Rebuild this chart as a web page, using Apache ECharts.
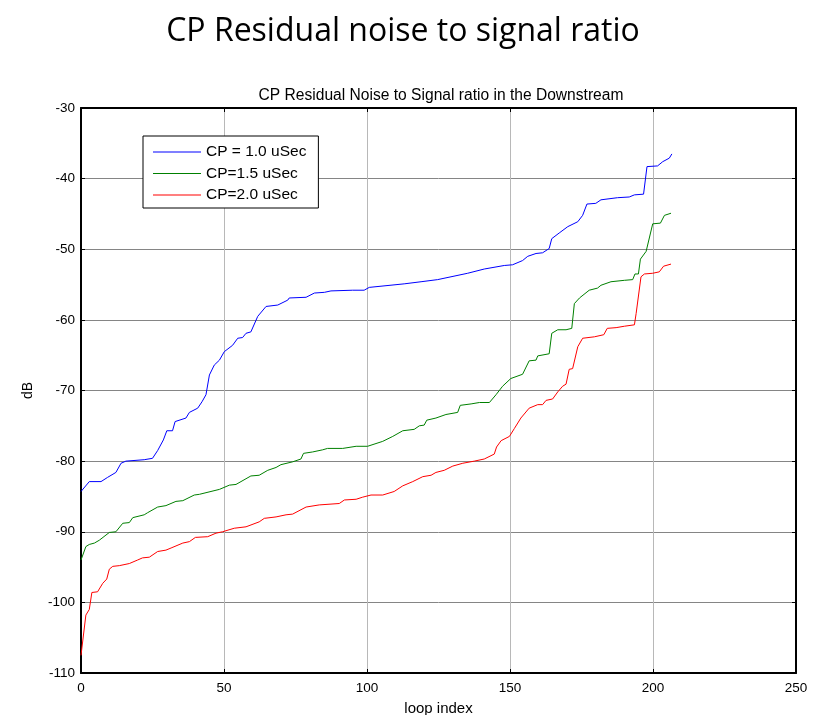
<!DOCTYPE html>
<html><head><meta charset="utf-8">
<script src="https://cdn.jsdelivr.net/npm/echarts@6/dist/echarts.min.js"></script>
<style>html,body{margin:0;padding:0;background:#fff}#c{width:821px;height:715px}</style>
</head><body><div id="c"></div>
<script>
const seriesNames = ['CP = 1.0 uSec', 'CP=1.5 uSec', 'CP=2.0 uSec'];
const xTicks = [0, 50, 100, 150, 200, 250];
const yTicks = [-110, -100, -90, -80, -70, -60, -50, -40, -30];

const blueX = [0, 2.9, 7, 9.3, 12.2, 14, 15.7, 22.1, 25, 26.8, 28.8, 30, 32, 32.9, 36.7, 37.9, 40.8, 42.3, 43.7, 44.9, 46.6, 48.4, 50.1, 53, 54.8, 56.5, 57.7, 59.4, 61.8, 64.7, 68.8, 72.3, 72.8, 78.7, 81.6, 85.1, 87.4, 95, 99, 100.8, 113, 118.9, 124.7, 135.2, 141, 148, 150.9, 154.4, 156.2, 159.1, 161.4, 163.7, 164.6, 167.2, 170.2, 173.7, 175.4, 176.9, 180, 181.8, 187.6, 191.7, 193.5, 196.7, 197.9, 201.6, 203.4, 205.7, 206.6];
const blueY = [-84.3, -82.9, -82.9, -82.3, -81.6, -80.3, -80, -79.8, -79.6, -78.5, -77, -75.7, -75.7, -74.4, -73.9, -73.1, -72.5, -71.6, -70.6, -67.8, -66.4, -65.7, -64.5, -63.6, -62.6, -62.5, -61.9, -61.7, -59.5, -58.1, -57.9, -57.2, -56.9, -56.8, -56.2, -56.1, -55.9, -55.8, -55.8, -55.4, -54.9, -54.6, -54.3, -53.4, -52.8, -52.3, -52.2, -51.6, -51, -50.6, -50.5, -49.9, -48.5, -47.7, -46.8, -46.1, -45.2, -43.6, -43.5, -43, -42.7, -42.6, -42.3, -42.2, -38.3, -38.2, -37.6, -37.1, -36.5];

const greenX = [0, 1.7, 2.9, 4.7, 6.4, 9.9, 12.2, 14.6, 16.9, 18.1, 22.1, 23.3, 26.8, 29.7, 33.2, 35.6, 39.6, 41.4, 48.4, 51.9, 54.2, 59.4, 62.3, 65.3, 68.2, 69.9, 74, 76.9, 77.8, 81, 84.5, 86.2, 91.5, 96.2, 100.2, 105.5, 109, 112.5, 116.5, 118.3, 120, 120.9, 124.1, 127.6, 131.7, 132.6, 136.4, 139.3, 142.8, 145.1, 147.4, 150.3, 154.4, 156.7, 159.1, 159.7, 163.7, 164.6, 166.7, 169.6, 171.6, 172.5, 174.3, 177.7, 180.6, 181.8, 185.3, 190, 192.9, 193.7, 194.9, 195.6, 197.6, 199.9, 202.6, 204, 206.3];
const greenY = [-94, -92.1, -91.8, -91.6, -91.2, -90.1, -90, -88.8, -88.7, -88, -87.6, -87.3, -86.5, -86.3, -85.7, -85.6, -84.8, -84.7, -84, -83.4, -83.3, -82.1, -82, -81.3, -80.9, -80.5, -80.1, -79.7, -78.9, -78.7, -78.4, -78.2, -78.2, -77.9, -77.9, -77.2, -76.5, -75.7, -75.5, -75, -74.9, -74.2, -73.9, -73.4, -73.1, -72.1, -71.9, -71.7, -71.7, -70.6, -69.4, -68.3, -67.7, -65.8, -65.7, -65.1, -64.8, -61.9, -61.4, -61.4, -61.2, -57.7, -56.9, -55.8, -55.5, -55.1, -54.6, -54.4, -54.3, -53.5, -53.5, -51.4, -50.3, -46.4, -46.3, -45.2, -44.9];

const redX = [0, 1.7, 2.9, 3.8, 5.8, 7.6, 9, 9.9, 11.1, 13.4, 16.9, 19.8, 21.5, 23.9, 26.8, 29.7, 31.5, 35.6, 37.9, 40, 44.3, 47.2, 49.5, 53.6, 57.7, 62.3, 64.1, 68.2, 71.7, 74, 78.7, 83.3, 90.3, 92.1, 96.2, 98.5, 101.4, 105.5, 109.5, 112.5, 116, 119.5, 122.4, 124.1, 127, 130, 133.5, 137.5, 141, 144.5, 145.3, 146.9, 149.8, 151.5, 153.8, 156.7, 159.7, 161.4, 162.6, 164.9, 166.7, 168.4, 169.6, 170.7, 171.9, 173.7, 175.4, 179.5, 182.8, 184, 187.1, 190, 193.5, 194.1, 195.8, 197, 199.9, 202.2, 203.7, 206.3];
const redY = [-107.5, -101.8, -101, -98.6, -98.5, -97.3, -96.7, -95.3, -94.9, -94.8, -94.5, -94, -93.7, -93.6, -92.8, -92.6, -92.3, -91.6, -91.4, -90.8, -90.7, -90.2, -90, -89.5, -89.3, -88.6, -88.1, -87.9, -87.6, -87.5, -86.5, -86.2, -86, -85.5, -85.4, -85.1, -84.8, -84.8, -84.3, -83.5, -82.9, -82.2, -82, -81.6, -81.3, -80.7, -80.3, -80, -79.7, -79, -78, -77.1, -76.5, -75.4, -73.9, -72.5, -72, -72, -71.4, -71.2, -70.2, -69.4, -69.1, -67, -66.9, -63.8, -62.6, -62.4, -62.1, -61.2, -61.1, -60.9, -60.7, -59.1, -53.9, -53.5, -53.4, -53.2, -52.4, -52.1];

const pair = (xs, ys) => xs.map((x, i) => [x, ys[i]]);
const colors = ['#0000ff', '#008000', '#ff0000'];
const font = '"Liberation Sans", Arial, sans-serif';

const chart = echarts.init(document.getElementById('c'), null, {renderer: 'canvas'});
const baseX = {
  type: 'value', min: xTicks[0], max: xTicks[xTicks.length - 1], interval: 50,
  axisLine: {show: true, onZero: false, lineStyle: {color: '#000', width: 2}},
  axisTick: {show: true, inside: true, length: 4, lineStyle: {color: '#000'}},
};
const baseY = {
  type: 'value', min: yTicks[0], max: yTicks[yTicks.length - 1], interval: 10,
  axisLine: {show: true, onZero: false, lineStyle: {color: '#000', width: 2}},
  axisTick: {show: true, inside: true, length: 4, lineStyle: {color: '#000'}},
};
chart.setOption({
  backgroundColor: '#fff',
  animation: false,
  title: [
    {text: 'CP Residual noise to signal ratio', left: 398, top: 11, textAlign: 'center',
     textStyle: {fontFamily: '"Open Sans", sans-serif', fontWeight: 'normal', fontSize: 32, color: '#000'}},
    {text: 'CP Residual Noise to Signal ratio in the Downstream', left: 436, top: 83, textAlign: 'center',
     textStyle: {fontFamily: font, fontWeight: 'normal', fontSize: 15.6, color: '#000'}}
  ],
  grid: {left: 81, right: 25, top: 108, bottom: 42, containLabel: false, outerBoundsMode: 'none'},
  legend: {
    orient: 'vertical', left: 143, top: 136,
    data: seriesNames, icon: 'rect',
    backgroundColor: '#fff', borderColor: '#000', borderWidth: 1,
    padding: [7, 12, 4, 10], itemGap: 3.5, itemWidth: 48, itemHeight: 1,
    textStyle: {fontFamily: font, fontSize: 15.5, lineHeight: 18, color: '#000'}
  },
  xAxis: [
    Object.assign({}, baseX, {
      position: 'bottom', name: 'loop index', nameLocation: 'middle', nameGap: 28,
      nameTextStyle: {fontFamily: font, fontSize: 15, color: '#000'},
      axisLabel: {fontFamily: font, fontSize: 13.5, color: '#000', margin: 8},
      splitLine: {show: true, lineStyle: {color: '#b8b8b8', width: 1}}
    }),
    Object.assign({}, baseX, {position: 'top', axisLabel: {show: false}, splitLine: {show: false}})
  ],
  yAxis: [
    Object.assign({}, baseY, {
      position: 'left', name: 'dB', nameLocation: 'middle', nameGap: 46, nameRotate: 90,
      nameTextStyle: {fontFamily: font, fontSize: 14, color: '#000'},
      axisLabel: {fontFamily: font, fontSize: 13.5, color: '#000', margin: 6},
      splitLine: {show: true, lineStyle: {color: '#858585', width: 1}}
    }),
    Object.assign({}, baseY, {position: 'right', axisLabel: {show: false}, splitLine: {show: false}})
  ],
  series: [
    {name: seriesNames[0], type: 'line', data: pair(blueX, blueY), showSymbol: false, symbol: 'none', color: colors[0], lineStyle: {width: 1, color: colors[0]}},
    {name: seriesNames[1], type: 'line', data: pair(greenX, greenY), showSymbol: false, symbol: 'none', color: colors[1], lineStyle: {width: 1, color: colors[1]}},
    {name: seriesNames[2], type: 'line', data: pair(redX, redY), showSymbol: false, symbol: 'none', color: colors[2], lineStyle: {width: 1, color: colors[2]}}
  ]
});
</script>
</body></html>
